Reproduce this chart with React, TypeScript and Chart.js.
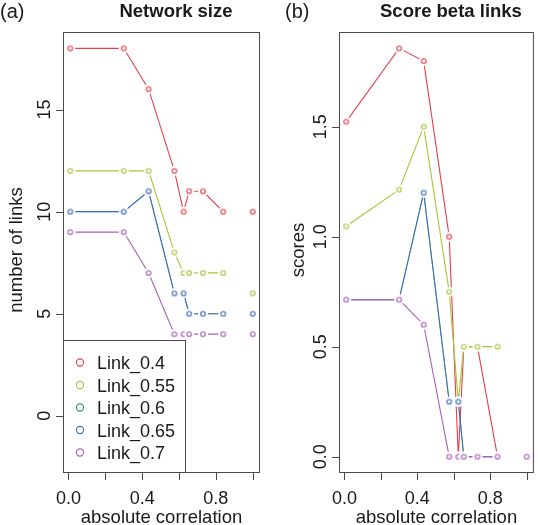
import React, { useEffect, useRef } from "react";
import { Chart, registerables } from "chart.js";

Chart.register(...registerables);

// ---------- data ----------
const SERIES_LABELS = ["Link_0.4", "Link_0.55", "Link_0.6", "Link_0.65", "Link_0.7"];
const SERIES_COLORS = ["#E5404C", "#A5C83A", "#1E9E55", "#3D6DB5", "#A660B6"];

// absolute correlation thresholds (0.92 holds missing values -> gap)
const ABS_CORRELATION = [0.01, 0.3, 0.435, 0.575, 0.625, 0.655, 0.73, 0.84, 0.92, 1.0];

// (a) Network size: number of links
const LINKS_04 = [18, 18, 16, 12, 10, 11, 11, 10, null, 10];
const LINKS_055 = [12, 12, 12, 8, 7, 7, 7, 7, null, 6];
const LINKS_06 = [10, 10, 11, 6, 6, 5, 5, 5, null, 5];
const LINKS_065 = [10, 10, 11, 6, 6, 5, 5, 5, null, 5];
const LINKS_07 = [9, 9, 7, 4, 4, 4, 4, 4, null, 4];

// (b) Score beta links
const SCORE_04 = [1.523, 1.856, 1.798, 1.0, 0, 0.5, 0.5, 0, null, 0];
const SCORE_055 = [1.047, 1.214, 1.5, 0.75, 0.25, 0.5, 0.5, 0.5, null, 0];
const SCORE_06 = [0.714, 0.714, 1.2, 0.25, 0.25, 0, 0, 0, null, 0];
const SCORE_065 = [0.714, 0.714, 1.2, 0.25, 0.25, 0, 0, 0, null, 0];
const SCORE_07 = [0.714, 0.714, 0.6, 0, 0, 0, 0, 0, null, 0];

const X_LIMITS = [0.01, 1.0];
const X_TICKS = [0, 0.2, 0.4, 0.6, 0.8, 1.0];
const X_TICK_LABELS = ["0.0", "", "0.4", "", "0.8", ""];

const LINKS_LIMITS = [-2, 18];
const LINKS_TICKS = [0, 5, 10, 15];
const LINKS_TICK_LABELS = ["0", "5", "10", "15"];

const SCORE_LIMITS = [0, 1.856];
const SCORE_TICKS = [0, 0.5, 1.0, 1.5];
const SCORE_TICK_LABELS = ["0.0", "0.5", "1.0", "1.5"];

// ---------- style ----------
const FONT = "'Liberation Sans', Arial, Helvetica, sans-serif";
const TEXT = "#1a1a1a";
const FRAME = "#4a4a4a";
const CANVAS_W = 269;
const CANVAS_H = 525;
const LINE_WIDTHS = [1.1, 1.1, 0.6, 1.1, 1.1];

type PanelDef = {
  tag: string;
  tagX: number;
  title: string;
  yTitle: string;
  yTitleX: number;
  series: (number | null)[][];
  yLimits: number[];
  yTicks: number[];
  yTickLabels: string[];
  padLeft: number;
  padRight: number;
  legend: boolean;
};

const PANELS: PanelDef[] = [
  {
    tag: "(a)",
    tagX: 0,
    title: "Network size",
    yTitle: "number of links",
    yTitleX: 22,
    series: [LINKS_04, LINKS_055, LINKS_06, LINKS_065, LINKS_07],
    yLimits: LINKS_LIMITS,
    yTicks: LINKS_TICKS,
    yTickLabels: LINKS_TICK_LABELS,
    padLeft: 63,
    padRight: 9,
    legend: true,
  },
  {
    tag: "(b)",
    tagX: 16,
    title: "Score beta links",
    yTitle: "scores",
    yTitleX: 35,
    series: [SCORE_04, SCORE_055, SCORE_06, SCORE_065, SCORE_07],
    yLimits: SCORE_LIMITS,
    yTicks: SCORE_TICKS,
    yTickLabels: SCORE_TICK_LABELS,
    padLeft: 70,
    padRight: 1,
    legend: false,
  },
];

// R-style 4% range extension
function extend(lim: number[]) {
  const d = (lim[1] - lim[0]) * 0.04;
  return [lim[0] - d, lim[1] + d];
}

// open circle with a white gap around it (like R's type = "b")
function makePointImage(color: string) {
  const c = document.createElement("canvas");
  c.width = 12;
  c.height = 12;
  const g = c.getContext("2d")!;
  g.fillStyle = "#ffffff";
  g.beginPath();
  g.arc(6, 6, 5, 0, Math.PI * 2);
  g.fill();
  g.strokeStyle = color;
  g.lineWidth = 1.1;
  g.beginPath();
  g.arc(6, 6, 2.3, 0, Math.PI * 2);
  g.stroke();
  return c;
}

function makeDecor(panel: PanelDef) {
  return {
    id: "panelDecor",
    afterDraw(chart: any) {
      const { ctx, chartArea: a, scales } = chart;
      const xs = scales.x;
      const ys = scales.y;
      ctx.save();
      ctx.strokeStyle = FRAME;
      ctx.lineWidth = 1;
      // frame
      ctx.strokeRect(a.left + 0.5, a.top + 0.5, a.right - a.left - 1, a.bottom - a.top - 1);

      // x axis ticks
      const xpix = X_TICKS.map((v) => Math.round(xs.getPixelForValue(v)) + 0.5);
      ctx.beginPath();
      ctx.moveTo(xpix[0], a.bottom - 0.5);
      ctx.lineTo(xpix[xpix.length - 1], a.bottom - 0.5);
      xpix.forEach((px) => {
        ctx.moveTo(px, a.bottom - 0.5);
        ctx.lineTo(px, a.bottom + 7);
      });
      ctx.stroke();

      // y axis ticks
      const ypix = panel.yTicks.map((v) => Math.round(ys.getPixelForValue(v)) + 0.5);
      ctx.beginPath();
      ctx.moveTo(a.left + 0.5, ypix[0]);
      ctx.lineTo(a.left + 0.5, ypix[ypix.length - 1]);
      ypix.forEach((py) => {
        ctx.moveTo(a.left + 0.5, py);
        ctx.lineTo(a.left - 7, py);
      });
      ctx.stroke();

      ctx.fillStyle = TEXT;
      ctx.font = `18px ${FONT}`;
      ctx.textAlign = "center";
      ctx.textBaseline = "alphabetic";
      X_TICKS.forEach((v, i) => {
        if (X_TICK_LABELS[i]) ctx.fillText(X_TICK_LABELS[i], xs.getPixelForValue(v), a.bottom + 31);
      });
      panel.yTicks.forEach((v, i) => {
        ctx.save();
        ctx.translate(a.left - 13, ys.getPixelForValue(v));
        ctx.rotate(-Math.PI / 2);
        ctx.fillText(panel.yTickLabels[i], 0, 0);
        ctx.restore();
      });

      // axis titles
      ctx.font = `18.5px ${FONT}`;
      ctx.fillText("absolute correlation", (a.left + a.right) / 2, a.bottom + 50);
      ctx.save();
      ctx.translate(panel.yTitleX, 250);
      ctx.rotate(-Math.PI / 2);
      ctx.fillText(panel.yTitle, 0, 0);
      ctx.restore();

      // main title
      ctx.font = `bold 18.5px ${FONT}`;
      ctx.fillText(panel.title, (a.left + a.right) / 2 + 14.5, 17);

      // panel tag
      ctx.font = `20px ${FONT}`;
      ctx.textAlign = "left";
      ctx.fillText(panel.tag, panel.tagX, 18);

      // legend
      if (panel.legend) {
        const lx = a.left + 0.5;
        const ly = 340.5;
        const lw = 122;
        const lh = a.bottom - 0.5 - ly;
        ctx.fillStyle = "#ffffff";
        ctx.fillRect(lx, ly, lw, lh);
        ctx.strokeStyle = FRAME;
        ctx.strokeRect(lx, ly, lw, lh);
        ctx.font = `18px ${FONT}`;
        SERIES_LABELS.forEach((lab, i) => {
          const cy = 362.5 + 22.5 * i;
          ctx.strokeStyle = SERIES_COLORS[i];
          ctx.lineWidth = 1.1;
          ctx.beginPath();
          ctx.arc(a.left + 17, cy, 3.6, 0, Math.PI * 2);
          ctx.stroke();
          ctx.fillStyle = TEXT;
          ctx.fillText(lab, a.left + 34, cy + 6.5);
        });
      }
      ctx.restore();
    },
  };
}

function Panel({ panel, left }: { panel: PanelDef; left: number }) {
  const ref = useRef<HTMLCanvasElement>(null);
  useEffect(() => {
    const canvas = ref.current!;
    const n = SERIES_LABELS.length;
    const xr = extend(X_LIMITS);
    const yr = extend(panel.yLimits);
    const chart = new Chart(canvas, {
      type: "line",
      data: {
        datasets: panel.series.map((vals, i) => ({
          label: SERIES_LABELS[i],
          data: ABS_CORRELATION.map((x, j) => ({ x, y: vals[j] })),
          borderColor: SERIES_COLORS[i],
          backgroundColor: SERIES_COLORS[i],
          borderWidth: LINE_WIDTHS[i],
          pointStyle: makePointImage(SERIES_COLORS[i]),
          pointRadius: 3,
          pointHoverRadius: 3,
          spanGaps: false,
          tension: 0,
          fill: false,
          order: n - i,
        })),
      } as any,
      options: {
        responsive: false,
        animation: false,
        devicePixelRatio: 1,
        events: [],
        layout: { padding: { left: panel.padLeft, right: panel.padRight, top: 32, bottom: 52 } },
        scales: {
          x: { type: "linear", display: false, min: xr[0], max: xr[1] },
          y: { type: "linear", display: false, min: yr[0], max: yr[1] },
        },
        plugins: {
          legend: { display: false },
          tooltip: { enabled: false },
          title: { display: false },
        },
      },
      plugins: [makeDecor(panel)],
    });
    return () => chart.destroy();
  }, [panel]);
  return (
    <canvas
      ref={ref}
      width={CANVAS_W}
      height={CANVAS_H}
      style={{ position: "absolute", left, top: 0, width: CANVAS_W, height: CANVAS_H }}
    />
  );
}

export default function App() {
  return (
    <div style={{ position: "fixed", left: 0, top: 0, width: 538, height: 525, background: "#fff" }}>
      <Panel panel={PANELS[0]} left={0} />
      <Panel panel={PANELS[1]} left={269} />
    </div>
  );
}
